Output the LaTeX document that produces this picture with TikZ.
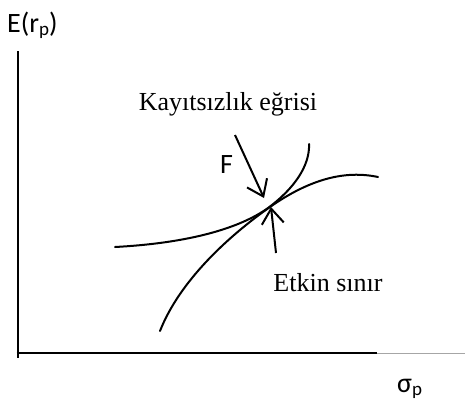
\documentclass[tikz,border=0pt]{standalone}
\usepackage{fontspec}
\setmainfont{Liberation Serif}
\newfontfamily\calfont{Carlito}
\usetikzlibrary{arrows.meta}
\begin{document}
\begin{tikzpicture}[x=1pt,y=-1pt,
  curve/.style={line width=2pt,line cap=round},
  axis/.style={line width=2pt},
  ptr/.style={line width=2pt,-{Straight Barb[length=15pt,width=22pt,line width=2pt]}},
  serif/.style={inner sep=0pt,font=\fontsize{26}{26}\selectfont},
  sans/.style={inner sep=0pt,font=\calfont\fontsize{28}{28}\selectfont}]
\useasboundingbox (0,0) rectangle (465,399);
% axes
\coordinate (ytop) at (17.5,51);
\coordinate (origin) at (17.5,358);
\coordinate (xend) at (377,353);
\coordinate (xfar) at (465,353);
\draw[axis] (ytop) -- (origin);
\draw[axis] (16.5,353) -- (xend);
\draw[line width=1pt,gray!70] (xend) -- (xfar);
% labels
\node[sans,anchor=base west] (ylab) at (7,32) {E(r\raisebox{-3pt}{\fontsize{19}{19}\selectfont p})};
\node[sans,anchor=base west] (xlab) at (397,392) {σ\raisebox{-3pt}{\fontsize{19}{19}\selectfont p}};
\node[serif,anchor=base] (kay) at (228,110) {Kayıtsızlık eğrisi};
\node[serif,anchor=base] (etk) at (328,291) {Etkin sınır};
\node[sans,anchor=base west] (F) at (220,173) {F};
% curves
\coordinate (ic0) at (115,247);
\coordinate (tan) at (268,208);
\coordinate (ic1) at (309,144);
\draw[curve] (ic0) .. controls (190,243) and (240,228) .. (tan)
  .. controls (295,188) and (310,165) .. (ic1);
\coordinate (ef0) at (160,331);
\coordinate (eft) at (270,207);
\coordinate (ef1) at (378,177);
\draw[curve] (ef0) .. controls (180,280) and (230,235) .. (eft)
  .. controls (310,179) and (345,170) .. (ef1);
% arrows
\coordinate (fa0) at (235,135);
\coordinate (fa1) at (264,198);
\draw[ptr] (fa0) -- (fa1);
\coordinate (ea0) at (276,253);
\coordinate (ea1) at (271,207);
\draw[ptr] (ea0) -- (ea1);
\end{tikzpicture}
\end{document}
